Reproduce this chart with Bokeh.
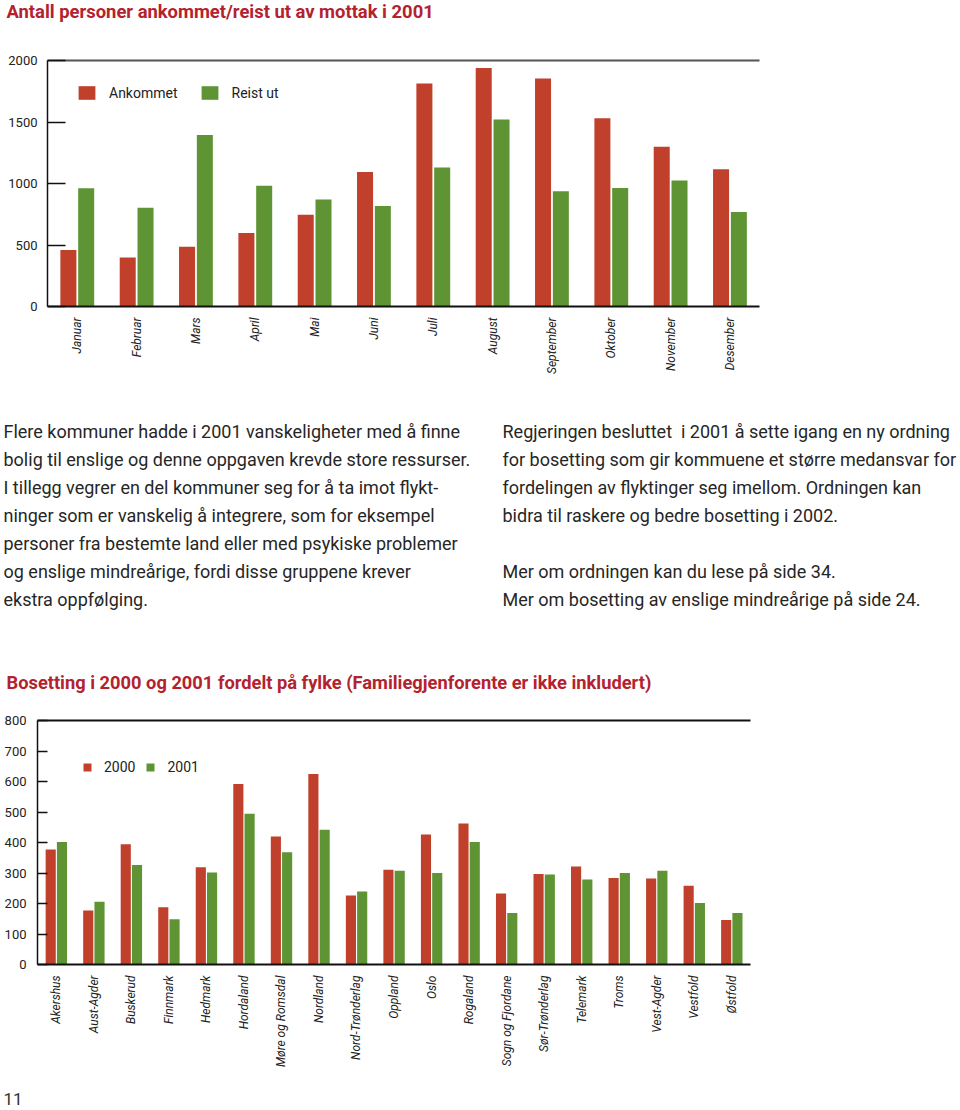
from bokeh.plotting import figure
from bokeh.models import (ColumnDataSource, FactorRange, Range1d, FixedTicker,
                          CategoricalAxis)
from bokeh.transform import dodge
from bokeh.core.properties import value
from bokeh.embed import file_html
from bokeh.resources import INLINE
import math

# ---------------- data ----------------
title1 = "Antall personer ankommet/reist ut av mottak i 2001"
months = ["Januar", "Februar", "Mars", "April", "Mai", "Juni", "Juli",
          "August", "September", "Oktober", "November", "Desember"]
ankommet = [460, 398, 485, 598, 745, 1094, 1813, 1940, 1853, 1531, 1298, 1116]
reist_ut = [962, 802, 1395, 981, 870, 818, 1130, 1520, 937, 964, 1024, 769]
y1_ticks = [0, 500, 1000, 1500, 2000]

title2 = "Bosetting i 2000 og 2001 fordelt på fylke (Familiegjenforente er ikke inkludert)"
fylker = ["Akershus", "Aust-Agder", "Buskerud", "Finnmark", "Hedmark", "Hordaland",
          "Møre og Romsdal", "Nordland", "Nord-Trønderlag", "Oppland", "Oslo",
          "Rogaland", "Sogn og Fjordane", "Sør-Trønderlag", "Telemark", "Troms",
          "Vest-Agder", "Vestfold", "Østfold"]
y2000 = [377, 177, 394, 188, 319, 592, 420, 625, 226, 311, 426, 462, 233, 297, 321, 284, 282, 258, 146]
y2001 = [402, 206, 326, 148, 302, 494, 368, 442, 239, 307, 300, 402, 169, 295, 279, 300, 307, 202, 169]
y2_ticks = [0, 100, 200, 300, 400, 500, 600, 700, 800]

left_para = [
    "Flere kommuner hadde i 2001 vanskeligheter med å finne",
    "bolig til enslige og denne oppgaven krevde store ressurser.",
    "I tillegg vegrer en del kommuner seg for å ta imot flykt-",
    "ninger som er vanskelig å integrere, som for eksempel",
    "personer fra bestemte land eller med psykiske problemer",
    "og enslige mindreårige, fordi disse gruppene krever",
    "ekstra oppfølging.",
]
right_para = [
    "Regjeringen besluttet\u00a0 i 2001 å sette igang en ny ordning",
    "for bosetting som gir kommuene et større medansvar for",
    "fordelingen av flyktinger seg imellom. Ordningen kan",
    "bidra til raskere og bedre bosetting i 2002.",
    "",
    "Mer om ordningen kan du lese på side 34.",
    "Mer om bosetting av enslige mindreårige på side 24.",
]
page_no = "11"

# ---------------- style ----------------
RED = "#c0402c"
GREEN = "#5f9434"
TITLE_RED = "#b3222d"
TXT = "#262626"
FONT = "Roboto"
W = 960


def text_fig(h):
    p = figure(width=W, height=h, x_range=Range1d(0, W), y_range=Range1d(h, 0),
               output_backend="svg", toolbar_location=None,
               x_axis_location=None, y_axis_location=None,
               min_border=0, min_border_left=0, min_border_right=0,
               min_border_top=0, min_border_bottom=0)
    p.grid.visible = False
    p.outline_line_color = None
    return p


def style_chart(p, ticks, top_color, standoff, tick_in):
    p.grid.visible = False
    p.outline_line_color = None
    p.yaxis.ticker = FixedTicker(ticks=ticks)
    p.yaxis.major_tick_in = tick_in
    p.yaxis.major_tick_out = 0
    p.yaxis.major_tick_line_color = "#111111"
    p.yaxis.major_tick_line_width = 1.5
    p.yaxis.minor_tick_line_color = None
    p.yaxis.axis_line_color = "#111111"
    p.yaxis.axis_line_width = 1.5
    p.yaxis.major_label_text_font = FONT
    p.yaxis.major_label_text_font_size = "13px"
    p.yaxis.major_label_text_color = "#222222"
    p.yaxis.major_label_standoff = standoff
    p.xaxis.major_tick_line_color = None
    p.xaxis.axis_line_color = "#111111"
    p.xaxis.axis_line_width = 2
    p.xaxis.major_label_orientation = math.pi / 2
    p.xaxis.major_label_text_font = FONT
    p.xaxis.major_label_text_font_style = "italic"
    p.xaxis.major_label_text_font_size = "12px"
    p.xaxis.major_label_text_color = "#222222"
    top = CategoricalAxis(major_label_text_font_size="1px", major_label_text_color=None,
                          major_tick_line_color=None, minor_tick_line_color=None,
                          axis_line_color=top_color, axis_line_width=2,
                          major_label_standoff=0)
    p.add_layout(top, "above")


def style_legend(lg, loc, gw, gh, spacing):
    lg.location = loc
    lg.orientation = "horizontal"
    lg.glyph_width = gw
    lg.glyph_height = gh
    lg.label_height = gh
    lg.label_standoff = 12
    lg.spacing = spacing
    lg.padding = 0
    lg.margin = 0
    lg.border_line_color = None
    lg.background_fill_alpha = 0
    lg.label_text_font = FONT
    lg.label_text_font_size = "14px"
    lg.label_text_color = "#222222"


# ---------------- title 1 ----------------
t1 = text_fig(52)
t1.text(x=[6], y=[11], text=[title1], text_font=value(FONT), text_font_style="bold",
        text_font_size="18.4px", text_color=TITLE_RED, text_baseline="middle", text_align="left")

# ---------------- chart 1 ----------------
src1 = ColumnDataSource(dict(m=months, a=ankommet, r=reist_ut))
c1 = figure(width=W, height=346, x_range=FactorRange(*months, range_padding=0),
            y_range=Range1d(0, 2000), output_backend="svg", toolbar_location=None,
            min_border_left=47, min_border_right=201, min_border_top=8, min_border_bottom=92)
c1.vbar(x=dodge("m", -0.148, range=c1.x_range), top="a", width=0.27, source=src1,
        fill_color=RED, line_color=None, legend_label="Ankommet")
c1.vbar(x=dodge("m", 0.152, range=c1.x_range), top="r", width=0.27, source=src1,
        fill_color=GREEN, line_color=None, legend_label="Reist ut")
style_chart(c1, y1_ticks, "#555555", 10, 18)
c1.xaxis[0].major_label_standoff = 6
style_legend(c1.legend[0], (29, 205), 21, 17, 21)

# ---------------- text block + title 2 ----------------
tx = text_fig(302)
n = len(left_para)
line_y = [33 + 28 * i for i in range(n)]
tx.text(x=[3] * n, y=line_y, text=left_para, text_font=value(FONT),
        text_font_size="18px", text_color=TXT, text_baseline="middle", text_align="left")
tx.text(x=[502] * n, y=line_y, text=right_para, text_font=value(FONT),
        text_font_size="18px", text_color=TXT, text_baseline="middle", text_align="left")
tx.text(x=[6], y=[284], text=[title2], text_font=value(FONT), text_font_style="bold",
        text_font_size="18.3px", text_color=TITLE_RED, text_baseline="middle", text_align="left")

# ---------------- chart 2 ----------------
src2 = ColumnDataSource(dict(f=fylker, a=y2000, b=y2001))
c2 = figure(width=W, height=370, x_range=FactorRange(*fylker, range_padding=0),
            y_range=Range1d(0, 800), output_backend="svg", toolbar_location=None,
            min_border_left=37, min_border_right=210, min_border_top=20, min_border_bottom=103)
c2.vbar(x=dodge("f", -0.148, range=c2.x_range), top="a", width=0.27, source=src2,
        fill_color=RED, line_color=None, legend_label="2000")
c2.vbar(x=dodge("f", 0.152, range=c2.x_range), top="b", width=0.27, source=src2,
        fill_color=GREEN, line_color=None, legend_label="2001")
style_chart(c2, y2_ticks, "#111111", 11, 10)
c2.xaxis[0].major_label_standoff = 8
style_legend(c2.legend[0], (45, 189), 10, 10, 10)

# ---------------- page number ----------------
pn = text_fig(40)
pn.text(x=[3], y=[28], text=[page_no], text_font=value(FONT), text_font_size="17px",
        text_color="#333333", text_baseline="middle", text_align="left")

open("out.html", "w").write(file_html([t1, c1, tx, c2, pn], INLINE))
